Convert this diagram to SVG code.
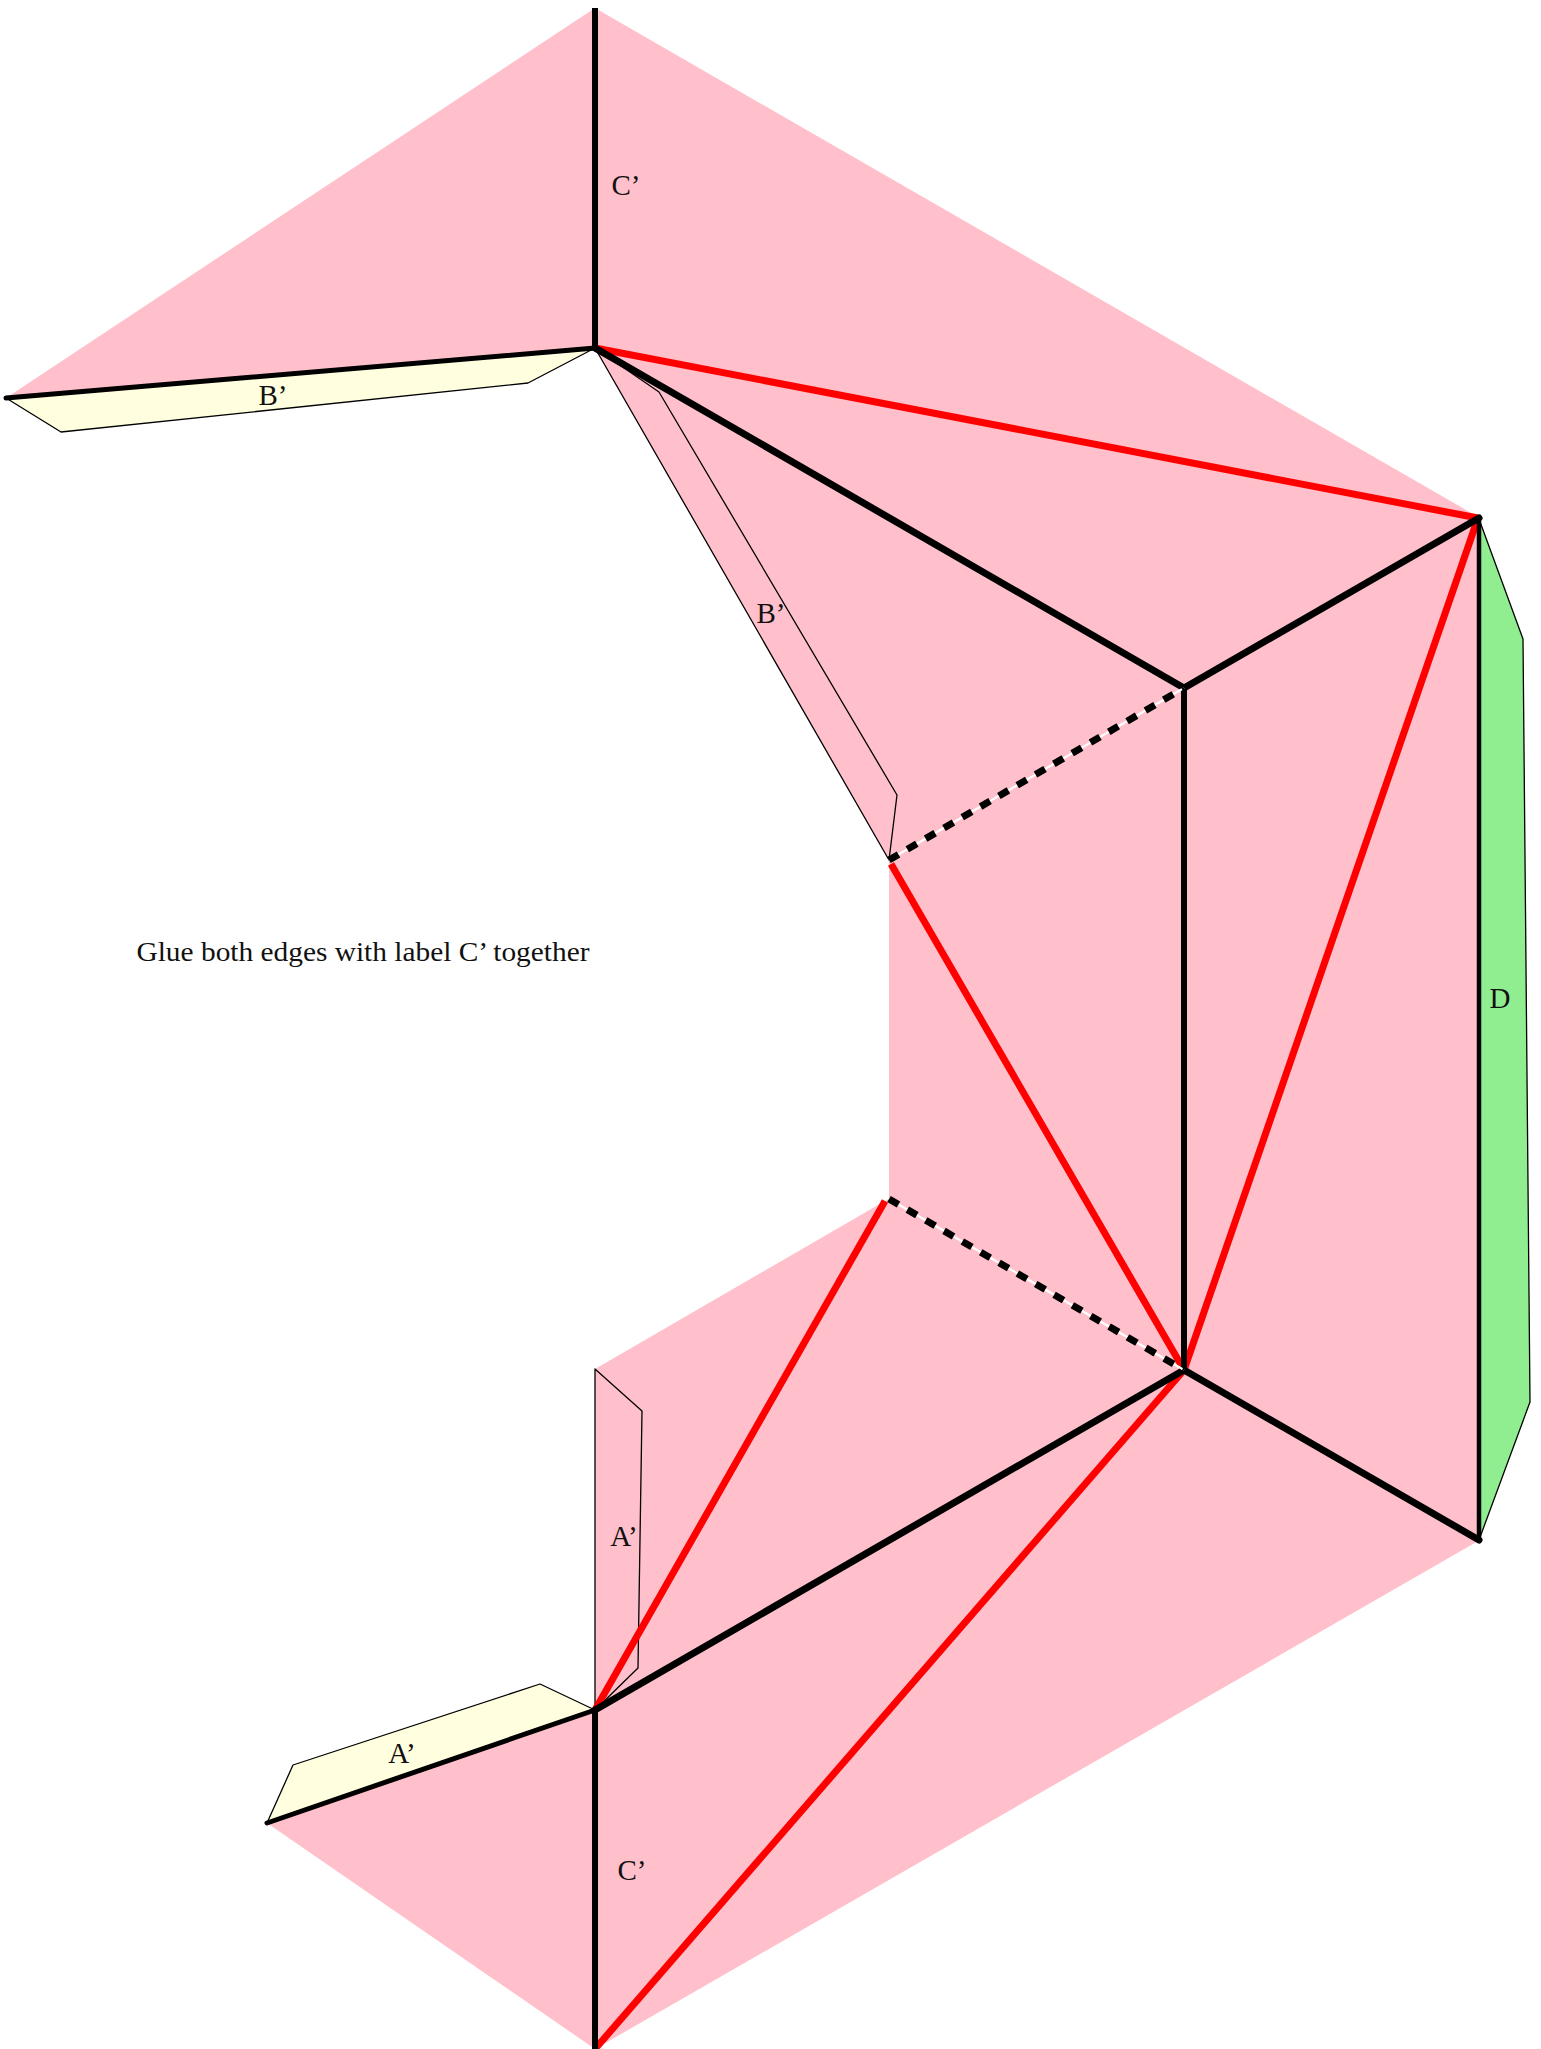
<svg xmlns="http://www.w3.org/2000/svg" width="1541" height="2049" viewBox="0 0 1541 2049">
<style>
.pink{fill:#ffc0cb;stroke:none}
.tab{stroke:#000;stroke-width:1.3;stroke-linejoin:round}
.y{fill:#ffffe0}.g{fill:#90ee90}.n{fill:none}
.k{stroke:#000;stroke-width:7;fill:none;stroke-linecap:round;stroke-linejoin:round}
.t{stroke:#000;stroke-width:5;fill:none;stroke-linecap:round}
.v{stroke:#000;stroke-width:6;fill:none;stroke-linecap:butt}
.r{stroke:#f00;stroke-width:7;fill:none;stroke-linecap:butt}
.w{stroke:#fff;stroke-width:2.2;fill:none}
.d{stroke:#000;stroke-width:7;fill:none;stroke-dasharray:11 10.2}
text{font-family:"Liberation Serif","Times New Roman",serif;font-size:29px;fill:#111;text-anchor:middle}
</style>
<rect width="1541" height="2049" fill="#fff"/>
<g id="faces"><polygon class="pink" points="595,8 1480,518 1480,1540 595,2049 267,1823 595,1710 595,1369 885,1201 889,1199 889,860 595,348 6,398"/></g>
<g id="tab-green"><polygon class="tab g" points="1479,519 1523,639 1530,1402 1479,1540"/></g>
<g id="tab-b-left"><polygon class="tab y" points="6,398 61,432 528,383 595,348"/></g>
<g id="tab-a-left"><polygon class="tab y" points="267,1823 293,1765 540,1684 595,1710"/></g>
<g id="tab-b-right"><polygon class="tab n" points="595,348 659,392 897,795 889,860"/></g>
<g id="tab-a-right"><polygon class="tab n" points="595,1369 642,1411 638,1668 595,1710"/></g>
<g id="connectors">
<path class="r" d="M595,348L1478,518"/>
<path class="r" d="M1478,518L1184,1370"/>
<path class="r" d="M891,864L1184,1370"/>
<path class="r" d="M885,1201L595,1710"/>
<path class="r" d="M1184,1370L595,2049"/>
<path class="v" d="M595,8V350"/>
<path class="t" d="M6,398L595,348"/>
<path class="t" d="M267,1823L595,1710"/>
<path class="v" d="M595,1708V2049"/>
<path class="k" d="M595,348L1184,688L1479,518"/>
<path class="v" d="M1184,688V1370"/>
<path class="k" d="M595,1710L1184,1370L1479,1540"/>
<path class="t" style="stroke-width:4.5" d="M1479,519V1540"/>
<path class="w" d="M889,860L1184,688"/>
<path class="d" d="M889,860L1184,688"/>
<path class="w" d="M889,1199L1184,1370"/>
<path class="d" d="M889,1199L1184,1370"/>
</g>
<g id="labels">
<text x="626" y="195">C’</text>
<text x="1500" y="1008">D</text>
<text x="273" y="405">B’</text>
<text x="771" y="623">B’</text>
<text x="624" y="1546">A’</text>
<text x="402" y="1763">A’</text>
<text x="632" y="1880">C’</text>
<text x="363" y="961" style="font-size:28px" textLength="453" lengthAdjust="spacingAndGlyphs">Glue both edges with label C’ together</text>
</g>
</svg>
